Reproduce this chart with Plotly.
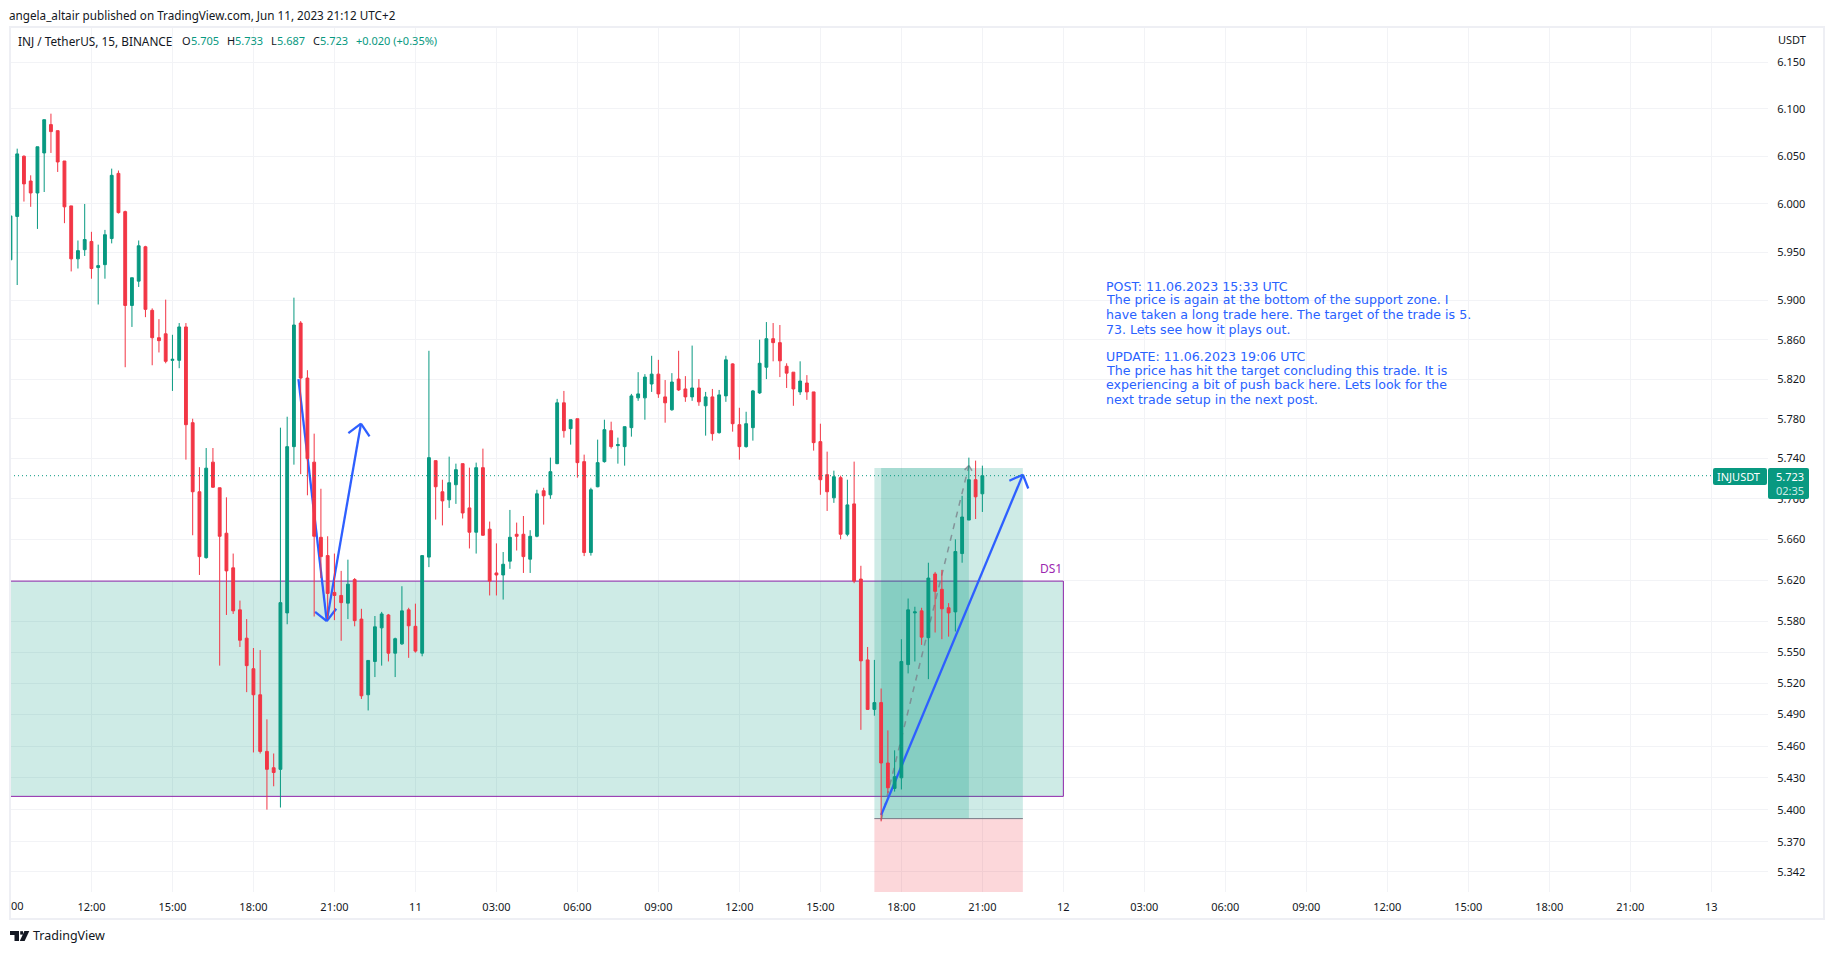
import math
import pandas as pd
import plotly.graph_objects as go

# ---- candles: 15 min bars starting 2023-06-10 09:00 ----
START = "2023-06-10 09:00"
OPEN = [5.942,5.987,6.050,6.024,6.0115,6.0535,6.0834,6.077,6.045,5.998,5.943,5.9525,5.961,5.934,5.937,5.964,6.032,5.992,5.895,5.920,5.9555,5.890,5.862,5.866,5.839,5.839,5.873,
5.776,5.707,5.642,5.7365,5.711,5.666,5.632,5.591,5.5635,5.534,5.509,5.455,5.4395,5.438,5.588,5.752,5.877,5.821,5.7365,5.662,5.644,5.608,5.605,5.5975,5.6205,5.582,5.509,5.541,5.5735,5.586,5.549,5.558,5.591,5.575,5.549,
5.6425,5.738,5.707,5.699,5.714,5.735,5.691,5.667,5.731,5.670,5.627,5.625,5.6385,5.665,5.665,5.6405,5.663,5.708,5.704,5.735,5.796,5.770,5.780,5.737,5.647,5.712,5.737,5.768,5.753,5.752,5.771,5.801,5.801,5.815,5.825,5.802,5.789,5.820,5.810,5.802,5.811,5.793,5.802,5.766,5.803,5.8354,5.774,5.752,5.771,5.806,5.832,5.861,5.857,5.833,5.827,5.807,5.816,5.807,5.757,5.724,5.701,5.721,5.665,5.695,
5.621,5.5425,5.495,5.5015,5.444,5.420,5.430,5.538,5.588,5.590,5.564,5.626,5.611,5.593,5.589,5.646,5.679,5.719,5.705]
HIGH = [5.988,6.058,6.051,6.030,6.060,6.0886,6.095,6.077,6.045,5.998,5.962,6.000,5.971,5.9577,5.973,6.037,6.035,5.993,5.9235,5.962,5.9565,5.892,5.881,5.901,5.865,5.877,5.877,
5.780,5.7315,5.7506,5.7506,5.711,5.7015,5.646,5.600,5.582,5.554,5.552,5.4855,5.453,5.771,5.782,5.903,5.879,5.829,5.765,5.710,5.663,5.646,5.629,5.640,5.622,5.592,5.542,5.585,5.589,5.587,5.564,5.614,5.593,5.597,5.644,
5.8487,5.738,5.719,5.742,5.735,5.735,5.731,5.736,5.750,5.6775,5.656,5.6475,5.689,5.6765,5.683,5.669,5.709,5.711,5.741,5.800,5.808,5.779,5.780,5.744,5.711,5.759,5.779,5.777,5.761,5.772,5.805,5.827,5.825,5.8436,5.8395,5.819,5.826,5.8487,5.823,5.854,5.820,5.807,5.810,5.809,5.8436,5.836,5.791,5.787,5.809,5.860,5.878,5.877,5.875,5.836,5.827,5.838,5.824,5.807,5.775,5.747,5.728,5.723,5.719,5.737,
5.634,5.555,5.5425,5.515,5.475,5.456,5.5625,5.602,5.594,5.593,5.637,5.628,5.630,5.5975,5.660,5.703,5.741,5.738,5.733]
LOW = [5.942,5.916,6.0025,5.997,5.974,6.0125,6.0535,6.0335,5.980,5.930,5.933,5.946,5.9225,5.896,5.9225,5.959,5.990,5.832,5.873,5.914,5.883,5.834,5.847,5.836,5.808,5.831,5.739,
5.664,5.625,5.641,5.711,5.537,5.586,5.587,5.555,5.5115,5.454,5.453,5.400,5.422,5.402,5.577,5.734,5.7245,5.7035,5.5845,5.622,5.582,5.581,5.561,5.582,5.575,5.505,5.494,5.526,5.537,5.541,5.526,5.557,5.5445,5.5495,5.546,
5.6327,5.6795,5.6737,5.691,5.695,5.6805,5.651,5.646,5.6635,5.605,5.605,5.601,5.631,5.649,5.627,5.627,5.662,5.6745,5.700,5.7345,5.761,5.754,5.721,5.6435,5.644,5.7115,5.736,5.750,5.735,5.733,5.762,5.798,5.779,5.807,5.801,5.776,5.788,5.808,5.797,5.798,5.793,5.763,5.758,5.765,5.797,5.767,5.739,5.751,5.758,5.805,5.820,5.838,5.822,5.811,5.793,5.804,5.799,5.748,5.704,5.688,5.696,5.660,5.663,5.617,
5.4755,5.4945,5.489,5.389,5.4156,5.417,5.419,5.5295,5.541,5.557,5.524,5.569,5.5625,5.565,5.570,5.637,5.679,5.680,5.687]
CLOSE = [5.9875,6.0525,6.021,6.0115,6.060,6.0886,6.076,6.044,5.997,5.943,5.9515,5.963,5.933,5.936,5.968,6.030,5.991,5.895,5.9235,5.9565,5.891,5.862,5.859,5.838,5.840,5.873,5.774,
5.707,5.643,5.7305,5.7115,5.663,5.629,5.590,5.5615,5.537,5.509,5.455,5.438,5.435,5.598,5.752,5.875,5.821,5.740,5.663,5.643,5.607,5.605,5.598,5.616,5.5805,5.508,5.542,5.5745,5.587,5.549,5.563,5.590,5.5755,5.551,5.644,
5.741,5.712,5.698,5.716,5.729,5.686,5.667,5.731,5.664,5.619,5.625,5.6355,5.662,5.663,5.643,5.663,5.705,5.703,5.727,5.796,5.768,5.779,5.736,5.647,5.709,5.736,5.769,5.752,5.754,5.772,5.803,5.805,5.822,5.825,5.805,5.796,5.817,5.809,5.802,5.811,5.797,5.802,5.765,5.804,5.8395,5.775,5.752,5.775,5.808,5.836,5.861,5.857,5.8385,5.826,5.810,5.818,5.807,5.756,5.719,5.707,5.722,5.665,5.694,5.619,
5.5416,5.495,5.5015,5.444,5.4206,5.431,5.541,5.591,5.589,5.5645,5.622,5.609,5.592,5.588,5.648,5.682,5.719,5.702,5.723]

# ---- axes ----
PRICE_TICKS = [6.15,6.10,6.05,6.00,5.95,5.90,5.86,5.82,5.78,5.74,5.70,5.66,5.62,5.58,5.55,5.52,5.49,5.46,5.43,5.40,5.37,5.342]
PRICE_LABELS = ["6.150","6.100","6.050","6.000","5.950","5.900","5.860","5.820","5.780","5.740","5.700","5.660","5.620","5.580","5.550","5.520","5.490","5.460","5.430","5.400","5.370","5.342"]
PRICE_RANGE = [5.3232, 6.1865]
TIME_RANGE = ["2023-06-10 08:59", "2023-06-13 02:06"]
TIME_TICKS = ["2023-06-10 12:00","2023-06-10 15:00","2023-06-10 18:00","2023-06-10 21:00",
              "2023-06-11 00:00","2023-06-11 03:00","2023-06-11 06:00","2023-06-11 09:00","2023-06-11 12:00","2023-06-11 15:00","2023-06-11 18:00","2023-06-11 21:00",
              "2023-06-12 00:00","2023-06-12 03:00","2023-06-12 06:00","2023-06-12 09:00","2023-06-12 12:00","2023-06-12 15:00","2023-06-12 18:00","2023-06-12 21:00",
              "2023-06-13 00:00"]
TIME_LABELS = ["12:00","15:00","18:00","21:00","11","03:00","06:00","09:00","12:00","15:00","18:00","21:00","12","03:00","06:00","09:00","12:00","15:00","18:00","21:00","13"]

# ---- drawings ----
LAST_PRICE = 5.723
ZONE_TOP, ZONE_BOTTOM = 5.619, 5.4125
ZONE_START, ZONE_END = "2023-06-10 08:00", "2023-06-12 00:00"
ENTRY, TARGET, STOP = 5.3916, 5.7307, 5.30
POS_START, POS_END = "2023-06-11 17:00", "2023-06-11 22:30"
FILL_START, FILL_END = "2023-06-11 17:15", "2023-06-11 20:30"

ARROW1_T = ["2023-06-11 17:15","2023-06-11 22:30","2023-06-11 22:00",None,"2023-06-11 22:30","2023-06-11 22:42"]
ARROW1_P = [5.395,5.724,5.718,None,5.724,5.7103]
ARROW2_T = ["2023-06-10 19:40","2023-06-10 20:43","2023-06-10 21:59",None,"2023-06-10 20:17","2023-06-10 20:43","2023-06-10 21:04",None,"2023-06-10 21:31","2023-06-10 21:59","2023-06-10 22:18"]
ARROW2_P = [5.82,5.58,5.775,None,5.589,5.58,5.592,None,5.7655,5.775,5.7623]
DASH_SEGMENTS = [("2023-06-11 17:15",5.39,"2023-06-11 20:30",5.733),
                 ("2023-06-11 20:30",5.733,"2023-06-11 20:17",5.7273),
                 ("2023-06-11 20:30",5.733,"2023-06-11 20:40",5.7257)]

HEADER = "angela_altair published on TradingView.com, Jun 11, 2023 21:12 UTC+2"
NOTE_LINES = [("POST: 11.06.2023 15:33 UTC",286),
              ("The price is again at the bottom of the support zone. I",300),
              ("have taken a long trade here. The target of the trade is 5.",314),
              ("73. Lets see how it plays out.",329),
              ("UPDATE: 11.06.2023 19:06 UTC",356),
              ("The price has hit the target concluding this trade. It is",370),
              ("experiencing a bit of push back here. Lets look for the",384),
              ("next trade setup in the next post.",399)]

GREEN, RED, BLUE, PURPLE, INK = "#089981", "#F23645", "#2E5FFF", "#8E24AA", "#131722"
GRID, FRAME = "#F2F3F6", "#EEEFF4"
FONT = "Noto Sans"
NOTE_FONT = "DejaVu Sans"

W, H = 1834, 955
L, R, T, B = 10, 1768, 28, 892
px = lambda x: (x - L) / (R - L)
py = lambda y: (B - y) / (B - T)

times = pd.date_range(START, periods=len(OPEN), freq="15min")

fig = go.Figure()
fig.add_trace(go.Candlestick(
    x=times, open=OPEN, high=HIGH, low=LOW, close=CLOSE,
    increasing=dict(line=dict(color=GREEN, width=1), fillcolor=GREEN),
    decreasing=dict(line=dict(color=RED, width=1), fillcolor=RED),
    whiskerwidth=0, showlegend=False, hoverinfo="skip"))

shapes = []
def rect(x0, x1, y0, y1, fill, line=None):
    shapes.append(dict(type="rect", xref="x", yref="y", x0=x0, x1=x1, y0=y0, y1=y1, layer="between",
                       fillcolor=fill, line=dict(color=line or "rgba(0,0,0,0)", width=1)))
rect(ZONE_START, ZONE_END, ZONE_BOTTOM, ZONE_TOP, "rgba(8,153,129,0.2)", PURPLE)
rect(POS_START, POS_END, ENTRY, TARGET, "rgba(8,153,129,0.2)")
rect(POS_START, POS_END, STOP, ENTRY, "rgba(242,54,69,0.2)")
rect(FILL_START, FILL_END, ENTRY, TARGET, "rgba(8,153,129,0.2)")
shapes.append(dict(type="line", xref="x", yref="y", x0=POS_START, x1=POS_END, y0=ENTRY, y1=ENTRY,
                   layer="between", line=dict(color="#787B86", width=1)))
for a, b, c, d in DASH_SEGMENTS:
    shapes.append(dict(type="line", xref="x", yref="y", x0=a, y0=b, x1=c, y1=d, layer="between",
                       line=dict(color="rgba(120,123,134,0.75)", width=1.5, dash="6px,6px")))
# hand drawn arrows sit behind the candles
for ts, ps in ((ARROW2_T, ARROW2_P), (ARROW1_T, ARROW1_P)):
    for i in range(len(ts) - 1):
        if ts[i] is None or ts[i + 1] is None:
            continue
        shapes.append(dict(type="line", xref="x", yref="y", x0=ts[i], y0=ps[i], x1=ts[i + 1], y1=ps[i + 1],
                           layer="between", line=dict(color=BLUE, width=2.3)))
# last price dotted line
shapes.append(dict(type="line", xref="paper", yref="y", x0=0, x1=px(1713), y0=LAST_PRICE, y1=LAST_PRICE,
                   layer="above", line=dict(color=GREEN, width=1, dash="1px,3px")))

def rr(x0, y0, x1, y1, r=2):
    f = lambda x, y: f"{px(x):.6f},{py(y):.6f}"
    return ("M" + f(x0 + r, y0) + " L" + f(x1 - r, y0) + " Q" + f(x1, y0) + " " + f(x1, y0 + r) +
            " L" + f(x1, y1 - r) + " Q" + f(x1, y1) + " " + f(x1 - r, y1) + " L" + f(x0 + r, y1) +
            " Q" + f(x0, y1) + " " + f(x0, y1 - r) + " L" + f(x0, y0 + r) + " Q" + f(x0, y0) + " " + f(x0 + r, y0) + " Z")
for box in ((1713, 468, 1767, 485), (1768, 468, 1809, 499)):
    shapes.append(dict(type="path", xref="paper", yref="paper", path=rr(*box), fillcolor=GREEN,
                       line=dict(width=0), layer="above"))
# outer frame
shapes.append(dict(type="rect", xref="paper", yref="paper", x0=px(10), x1=px(1824), y0=py(919), y1=py(27),
                   layer="above", fillcolor="rgba(0,0,0,0)", line=dict(color=FRAME, width=2)))
# TradingView mark
def poly(points):
    return "M" + " L".join(f"{px(x):.6f},{py(y):.6f}" for x, y in points) + " Z"
for pts in ([(10, 931), (19, 931), (19, 941), (14.5, 941), (14.5, 935), (10, 935)],
            [(24.4, 931), (29.3, 931), (24.6, 941), (19.8, 941)],
            [(20.2, 931.2), (23, 931.2), (23, 934.6), (20.2, 934.6)]):
    shapes.append(dict(type="path", xref="paper", yref="paper", path=poly(pts), fillcolor=INK,
                       line=dict(width=0), layer="above"))

ann = []
def label(text, x, y, color=INK, size=11, family=FONT):
    ann.append(dict(text=text, xref="paper", yref="paper", x=px(x), y=py(y), xanchor="left", yanchor="middle",
                    showarrow=False, font=dict(family=family, size=size, color=color), borderpad=0, borderwidth=0))
label(HEADER, 9, 15, size=11.7)
label("INJ / TetherUS, 15, BINANCE", 18, 41, size=11.8)
for txt, x, c in (("O",182,INK),("5.705",191,GREEN),("H",227,INK),("5.733",235,GREEN),("L",271,INK),("5.687",277,GREEN),
                  ("C",313,INK),("5.723",320,GREEN),("+0.020 (+0.35%)",356,GREEN)):
    label(txt, x, 41, c, 11)
label("USDT", 1778, 40, size=11)
label("00", 11, 905, size=11)
label("DS1", 1040, 568, "#9C27B0", 12)
for txt, y in NOTE_LINES:
    label(txt, 1106, y, "#2962FF", 12.6, NOTE_FONT)
label("INJUSDT", 1717, 476, "#FFFFFF", 11)
label("5.723", 1776, 476, "#FFFFFF", 11)
label("02:35", 1776, 490, "#CDEBE5", 11)
label("TradingView", 33, 936, INK, 12.5)

fig.update_layout(
    width=W, height=H, autosize=False, paper_bgcolor="#FFFFFF", plot_bgcolor="#FFFFFF",
    margin=dict(l=L, r=W - R, t=T, b=H - B, pad=0), boxgap=0.4, showlegend=False,
    font=dict(family=FONT, size=11, color=INK), shapes=shapes, annotations=ann, hovermode=False,
    xaxis=dict(type="date", range=TIME_RANGE, rangeslider=dict(visible=False), tickmode="array",
               tickvals=TIME_TICKS, ticktext=TIME_LABELS, showgrid=True, gridcolor=GRID, gridwidth=1,
               zeroline=False, showline=False, ticks="outside", ticklen=5, tickcolor="rgba(0,0,0,0)",
               tickangle=0, tickfont=dict(family=FONT, size=11, color=INK)),
    yaxis=dict(type="log", side="right", range=[math.log10(PRICE_RANGE[0]), math.log10(PRICE_RANGE[1])],
               tickmode="array", tickvals=PRICE_TICKS, ticktext=PRICE_LABELS, showgrid=True, gridcolor=GRID,
               gridwidth=1, zeroline=False, showline=False, ticks="outside", ticklen=6,
               tickcolor="rgba(0,0,0,0)", tickfont=dict(family=FONT, size=11, color=INK)))

fig.write_html("out.html", config=dict(displayModeBar=False),
               post_script="document.body.style.margin='0';document.documentElement.style.overflow='hidden';")
